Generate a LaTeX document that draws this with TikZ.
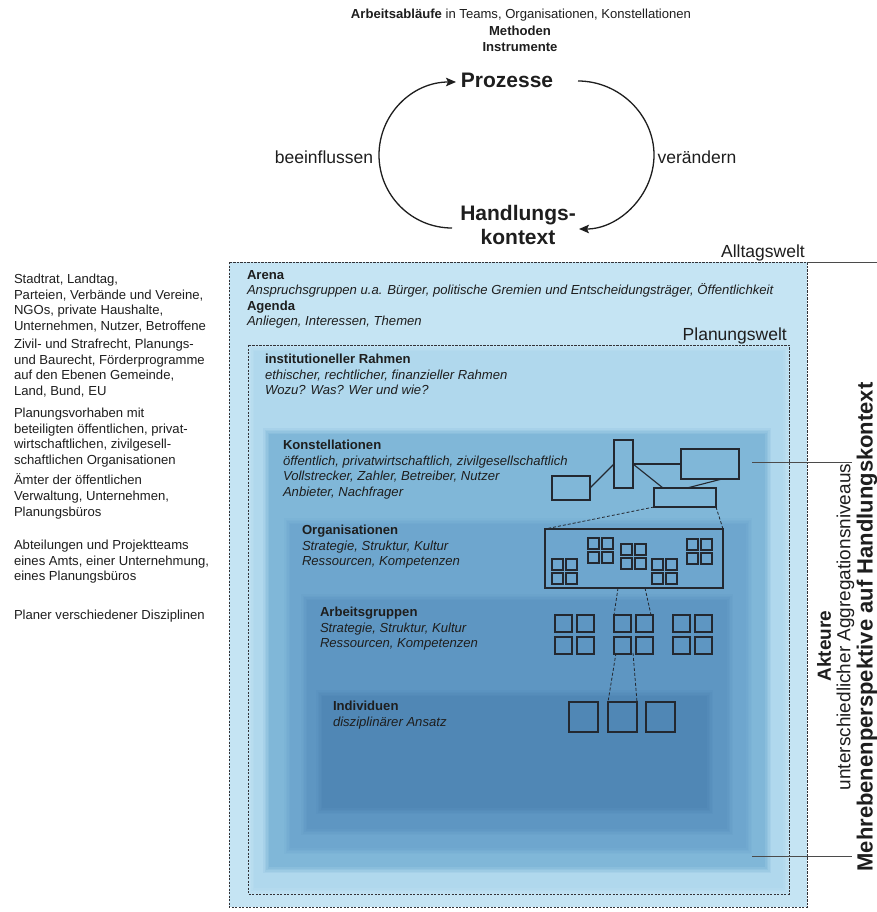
\documentclass[tikz,border=0pt]{standalone}
\usepackage{fontspec}
\setmainfont{Liberation Sans}
\usetikzlibrary{arrows.meta}
\definecolor{alltag}{RGB}{197,228,243}
\definecolor{planung}{RGB}{176,216,237}
\definecolor{konst}{RGB}{128,183,216}
\definecolor{orga}{RGB}{110,166,206}
\definecolor{arbeit}{RGB}{94,150,194}
\definecolor{indiv}{RGB}{80,135,181}
\definecolor{ink}{RGB}{30,30,30}
\definecolor{dashc}{RGB}{50,50,55}
\definecolor{iconc}{RGB}{35,40,48}
\newcommand{\softlayer}[6]{%
  \foreach \k/\p in {0/20,1/40,2/60,3/80,4/100}{%
    \fill[#6!\p!#5] ({#1+\k*1.5},{#2+\k*1.5}) rectangle ({#3-\k*1.5},{#4-\k*1.5});
  }}
\newcommand{\wingroup}[4]{%
  \foreach \i in {0,1}{\foreach \j in {0,1}{%
    \draw[iconline] ({#1+\i*(#3+#4)},{#2+\j*(#3+#4)}) rectangle ++(#3,#3);
  }}}
\tikzset{
  small/.style={font=\fontsize{13.1}{15.6}\selectfont, inner sep=0pt, outer sep=0pt, align=left, anchor=north west, text=ink},
  big/.style={font=\fontsize{21}{24}\selectfont\bfseries, inner sep=0pt, align=center, text=ink},
  mid/.style={font=\fontsize{17.5}{20}\selectfont, inner sep=0pt, text=ink},
  dashbox/.style={draw=dashc, line width=0.9pt, dash pattern=on 2.2pt off 1.3pt},
  iconline/.style={draw=iconc, line width=1.1pt},
  iconbox/.style={draw=iconc, line width=1.1pt, inner sep=0pt, outer sep=0pt},
  dashlink/.style={draw=iconc, line width=0.8pt, dash pattern=on 3pt off 2pt},
  cyc/.style={draw=ink, line width=1.3pt},
  tick/.style={draw=ink!80, line width=0.9pt}
}
\begin{document}
\begin{tikzpicture}[x=1pt,y=-1pt]
\clip (0,0) rectangle (877,912);
\fill[white] (0,0) rectangle (877,912);

% ---------- top cycle ----------
\node[small, anchor=center, align=center] (title) at (521,15) {\textbf{Arbeitsabläufe} in Teams, Organisationen, Konstellationen};
\node[small, anchor=north, align=center, font=\fontsize{13.1}{15.5}\selectfont\bfseries] (meth) at (520,26.5) {Methoden\\Instrumente};
\node[big] (proz) at (507,80) {Prozesse};
\node[big] (hk) at (518,225) {Handlungs-\\kontext};
\node[mid] (beein) at (324,157) {beeinflussen};
\node[mid] (verand) at (697,157) {verändern};

\coordinate (lb) at (452,228);
\coordinate (lm) at (379,155);
\coordinate (lt) at (456,82);
\coordinate (rt) at (578,81);
\coordinate (rm) at (654,155);
\coordinate (rb) at (579,229);
\draw[cyc, -{Stealth[length=10pt,width=8.5pt,inset=2pt]}] (lb) .. controls (411.7,228) and (379,195.3) .. (lm)
   .. controls (379,114.7) and (411.7,82) .. (lt);
\draw[cyc, -{Stealth[length=10pt,width=8.5pt,inset=2pt]}] (rt) .. controls (619,81) and (654,114.7) .. (rm)
   .. controls (654,195.3) and (619,229) .. (rb);

% ---------- nested worlds ----------
\fill[alltag] (229,262) rectangle (807,907);
\softlayer{248}{345}{789}{894}{alltag}{planung}
\softlayer{263}{428}{771}{873}{planung}{konst}
\softlayer{284}{518}{752}{854}{konst}{orga}
\softlayer{301}{594}{733}{835}{orga}{arbeit}
\softlayer{316}{690}{713}{814}{arbeit}{indiv}
\draw[dashbox] (229,262) rectangle (807,907);
\draw[dashbox] (248,345) rectangle (789,894);

\draw[tick] (807,262) -- (877,262);
\node[mid, anchor=base east] (alltag) at (805,257) {Alltagswelt};
\node[mid, anchor=base east] (planw) at (787,340) {Planungswelt};

% ---------- texts inside ----------
\node[small] (arena) at (247,270) {\textbf{Arena}\\\textit{Anspruchsgruppen u.a. Bürger, politische Gremien und Entscheidungsträger, Öffentlichkeit}\\\textbf{Agenda}\\\textit{Anliegen, Interessen, Themen}};
\node[small] (inst) at (265,354) {\textbf{institutioneller Rahmen}\\\textit{ethischer, rechtlicher, finanzieller Rahmen}\\\textit{Wozu? Was? Wer und wie?}};
\node[small] (konst) at (283,440) {\textbf{Konstellationen}\\\textit{öffentlich, privatwirtschaftlich, zivilgesellschaftlich}\\\textit{Vollstrecker, Zahler, Betreiber, Nutzer}\\\textit{Anbieter, Nachfrager}};
\node[small] (orga) at (302,525) {\textbf{Organisationen}\\\textit{Strategie, Struktur, Kultur}\\\textit{Ressourcen, Kompetenzen}};
\node[small] (arbg) at (320,607) {\textbf{Arbeitsgruppen}\\\textit{Strategie, Struktur, Kultur}\\\textit{Ressourcen, Kompetenzen}};
\node[small] (indv) at (333,701) {\textbf{Individuen}\\\textit{disziplinärer Ansatz}};

% ---------- left column ----------
\node[small] (l1) at (14,274) {Stadtrat, Landtag,\\Parteien, Verbände und Vereine,\\NGOs, private Haushalte,\\Unternehmen, Nutzer, Betroffene};
\node[small] (l2) at (14,339) {Zivil- und Strafrecht, Planungs-\\und Baurecht, Förderprogramme\\auf den Ebenen Gemeinde,\\Land, Bund, EU};
\node[small] (l3) at (14,408) {Planungsvorhaben mit\\beteiligten öffentlichen, privat-\\wirtschaftlichen, zivilgesell-\\schaftlichen Organisationen};
\node[small] (l4) at (14,474) {Ämter der öffentlichen\\Verwaltung, Unternehmen,\\Planungsbüros};
\node[small] (l5) at (14,540) {Abteilungen und Projektteams\\eines Amts, einer Unternehmung,\\eines Planungsbüros};
\node[small] (l6) at (14,610) {Planer verschiedener Disziplinen};

% ---------- constellation icons ----------
\node[iconbox, minimum width=38pt, minimum height=24pt] (A) at (571,488) {};
\node[iconbox, minimum width=19pt, minimum height=48pt] (B) at (623.5,464) {};
\node[iconbox, minimum width=58pt, minimum height=30pt] (C) at (710,464) {};
\node[iconbox, minimum width=62pt, minimum height=19pt] (D) at (685,497.5) {};
\node[iconbox, minimum width=178pt, minimum height=59pt] (org) at (634,558.5) {};
\draw[iconline] (A.east) -- (B.west);
\draw[iconline] (B.east) -- (C.west);
\draw[iconline] (B.east) -- ([xshift=9pt]D.north west);
\draw[iconline] ([xshift=33pt]D.north west) -- ([xshift=41pt]C.south west);
\draw[dashlink] (D.south west) -- (org.north west);
\draw[dashlink] (D.south east) -- (org.north east);

\wingroup{588}{538}{11}{3}
\wingroup{621}{544}{11}{3}
\wingroup{552}{559}{11}{3}
\wingroup{652}{559}{11}{3}
\wingroup{687}{539}{11}{3}

\wingroup{555}{615}{17}{5}
\wingroup{614}{615}{17}{5}
\wingroup{673}{615}{17}{5}

\coordinate (ob1) at (618,588);
\coordinate (ob2) at (645,588);
\coordinate (gt1) at (614,615);
\coordinate (gt2) at (651,615);
\coordinate (gb1) at (616,653);
\coordinate (gb2) at (633,653);
\draw[dashlink] (ob1) -- (gt1);
\draw[dashlink] (ob2) -- (gt2);

\node[iconbox, minimum width=29pt, minimum height=30pt] (I1) at (583.5,717) {};
\node[iconbox, minimum width=29pt, minimum height=30pt] (I2) at (622.5,717) {};
\node[iconbox, minimum width=29pt, minimum height=30pt] (I3) at (660.5,717) {};
\draw[dashlink] (gb1) -- (I2.north west);
\draw[dashlink] (gb2) -- (I2.north east);

% ---------- right side ----------
\draw[tick] (752,462) -- (852,462);
\draw[tick] (752,856) -- (852,856);
\node[font=\fontsize{19}{21}\selectfont\bfseries, text=ink, inner sep=0pt, rotate=90] (akt) at (824,646) {Akteure};
\node[font=\fontsize{19}{21}\selectfont, text=ink, inner sep=0pt, rotate=90] (aggr) at (845.5,627) {unterschiedlicher Aggregationsniveaus};
\node[font=\fontsize{22}{24}\selectfont\bfseries, text=ink, inner sep=0pt, rotate=90, anchor=base] (mehr) at (872.5,627) {Mehrebenenperspektive auf Handlungskontext};
\end{tikzpicture}
\end{document}
